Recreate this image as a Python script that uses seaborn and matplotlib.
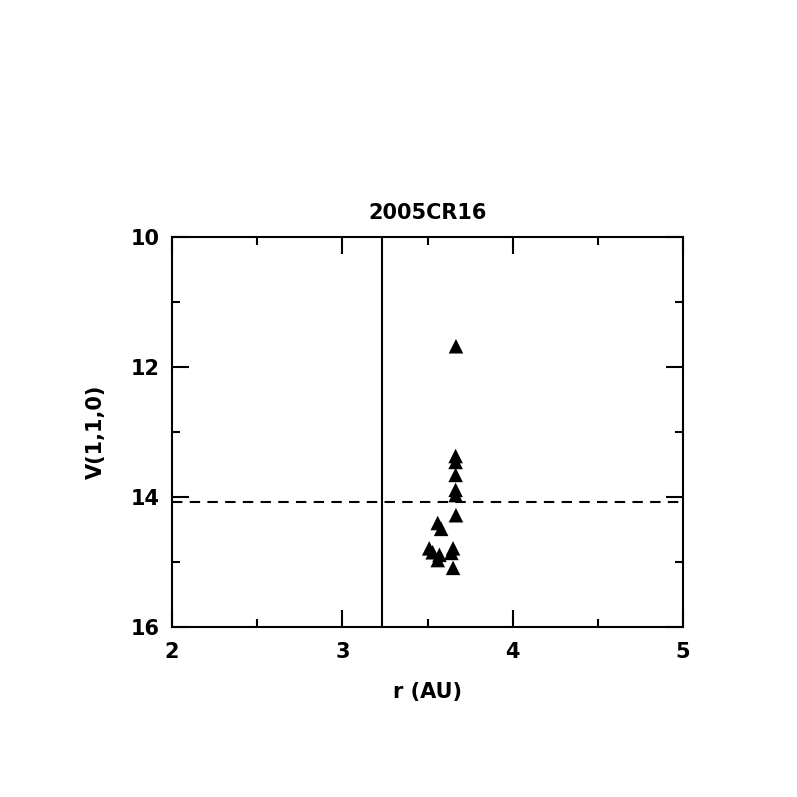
import pandas as pd
import matplotlib.pyplot as plt
import seaborn as sns
from matplotlib.ticker import MultipleLocator

# heliocentric distance (AU) and reduced magnitude V(1,1,0)
r_au = [3.667, 3.665, 3.665, 3.665, 3.665, 3.665, 3.667,
        3.56, 3.58, 3.51, 3.53, 3.57, 3.56, 3.65, 3.64, 3.65]
v110 = [11.68, 13.37, 13.46, 13.66, 13.89, 13.97, 14.28,
        14.40, 14.49, 14.79, 14.85, 14.89, 14.97, 14.79, 14.86, 15.09]
r_line = 3.23
v_line = 14.07

obs = pd.DataFrame({'r': r_au, 'V': v110})

sns.set_style('ticks')
plt.rcParams['font.family'] = ['DejaVu Sans']
plt.rcParams['font.weight'] = 'bold'
plt.rcParams['text.color'] = 'black'
plt.rcParams['axes.labelcolor'] = 'black'
plt.rcParams['xtick.color'] = 'black'
plt.rcParams['ytick.color'] = 'black'

fig = plt.figure(figsize=(7.97, 7.97), dpi=100)
ax = fig.add_axes([0.2158, 0.2133, 0.6412, 0.4893])

sns.scatterplot(x='r', y='V', data=obs, marker='^', color='black',
                edgecolor='none', s=110, ax=ax, zorder=3)

ax.axvline(r_line, color='black', lw=1.5)
ax.axhline(v_line, color='black', lw=1.5, ls=(0, (5, 3.5)))

ax.set_xlim(2, 5)
ax.set_ylim(16, 10)
ax.xaxis.set_major_locator(MultipleLocator(1))
ax.xaxis.set_minor_locator(MultipleLocator(0.5))
ax.yaxis.set_major_locator(MultipleLocator(2))
ax.yaxis.set_minor_locator(MultipleLocator(1))
ax.tick_params(which='both', direction='in', top=True, right=True,
               width=1.5, labelsize=15, colors='black')
ax.tick_params(axis='x', pad=11)
ax.tick_params(axis='y', pad=9)
ax.tick_params(which='major', length=12)
ax.tick_params(which='minor', length=6)
for sp in ax.spines.values():
    sp.set_linewidth(1.5)
    sp.set_color('black')

ax.set_xlabel('r (AU)', fontsize=15, fontweight='bold', labelpad=14)
ax.set_ylabel('V(1,1,0)', fontsize=15, fontweight='bold', labelpad=18)
ax.set_title('2005CR16', fontsize=15, fontweight='bold', pad=13)

fig.savefig('out.png', dpi=100, facecolor='white')
